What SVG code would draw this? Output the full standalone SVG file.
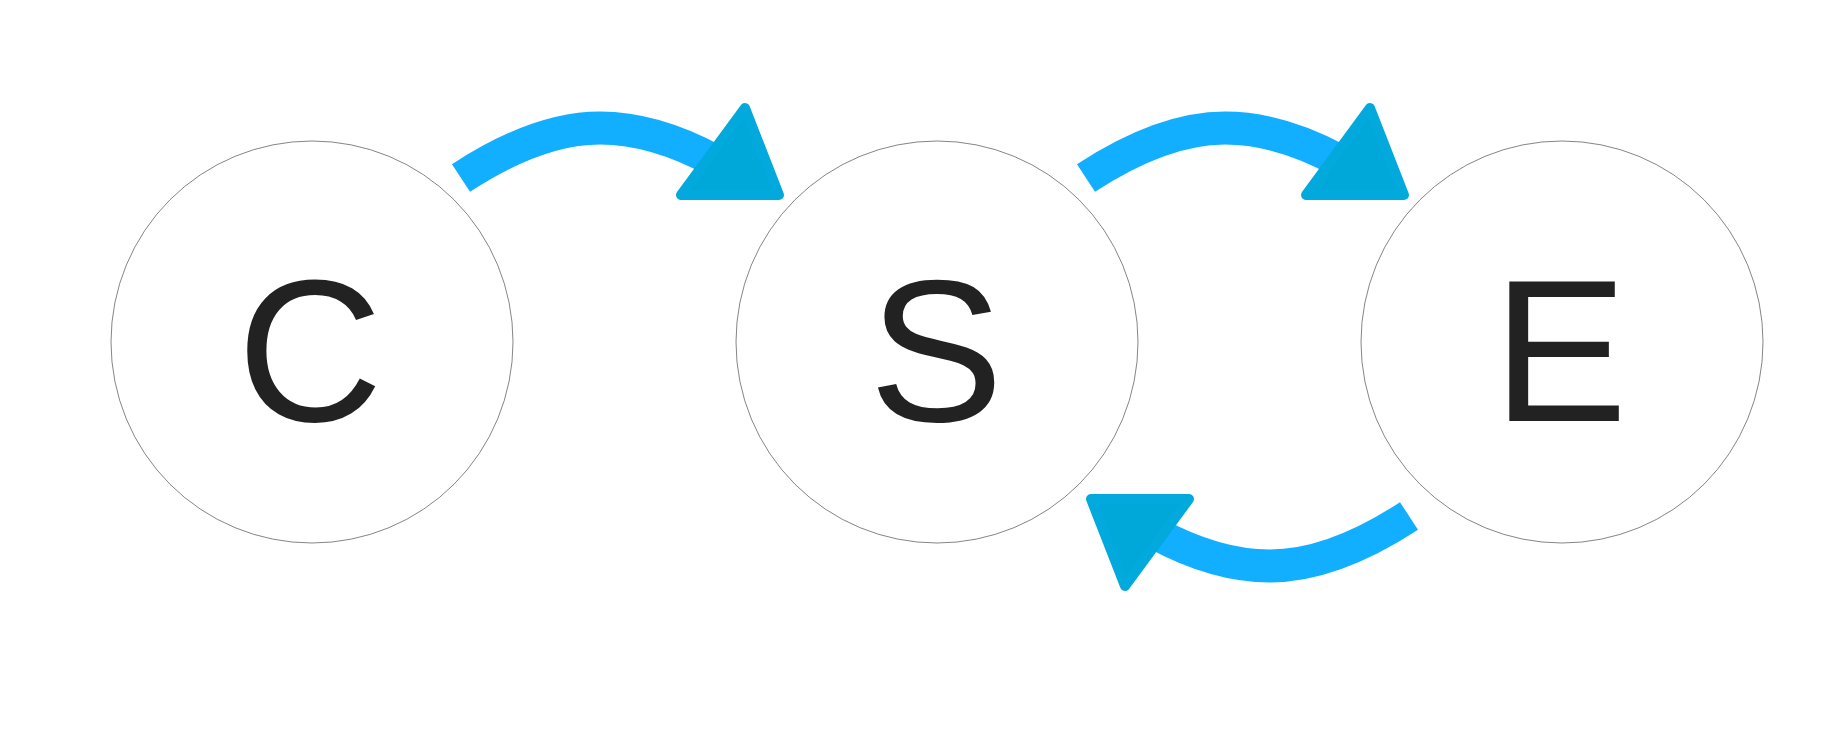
<svg xmlns="http://www.w3.org/2000/svg" width="1846" height="752" viewBox="0 0 1846 752">
  <style>
    .node circle { fill: #ffffff; stroke: #333333; stroke-width: 0.6; }
    .node text { font-family: "Liberation Sans", Arial, sans-serif; font-size: 202px; fill: #222222; text-anchor: middle; }
    .band { fill: none; stroke: #12aeff; stroke-width: 33; }
    .head { fill: #00a8d9; stroke: #02a9dc; stroke-width: 10; stroke-linejoin: round; }
  </style>
  <rect width="1846" height="752" fill="#ffffff"/>
  <g id="node-C" class="node">
    <circle cx="312" cy="342" r="201"/>
    <text x="310" y="421">C</text>
  </g>
  <g id="node-S" class="node">
    <circle cx="937" cy="342" r="201"/>
    <text x="936" y="421">S</text>
  </g>
  <g id="node-E" class="node">
    <circle cx="1562" cy="342" r="201"/>
    <text x="1560" y="421">E</text>
  </g>
  <g id="connectors">
    <g id="arrow-C-S">
      <path class="band" d="M461,178 C510,146 555,128 600,128 C640,128 680,142 715,161"/>
      <polygon class="head" points="745,108 681,195 779,195"/>
    </g>
    <g id="arrow-S-E" transform="translate(625,0)">
      <path class="band" d="M461,178 C510,146 555,128 600,128 C640,128 680,142 715,161"/>
      <polygon class="head" points="745,108 681,195 779,195"/>
    </g>
    <g id="arrow-E-S" transform="rotate(180 935 347)">
      <path class="band" d="M461,178 C510,146 555,128 600,128 C640,128 680,142 715,161"/>
      <polygon class="head" points="745,108 681,195 779,195"/>
    </g>
  </g>
</svg>
